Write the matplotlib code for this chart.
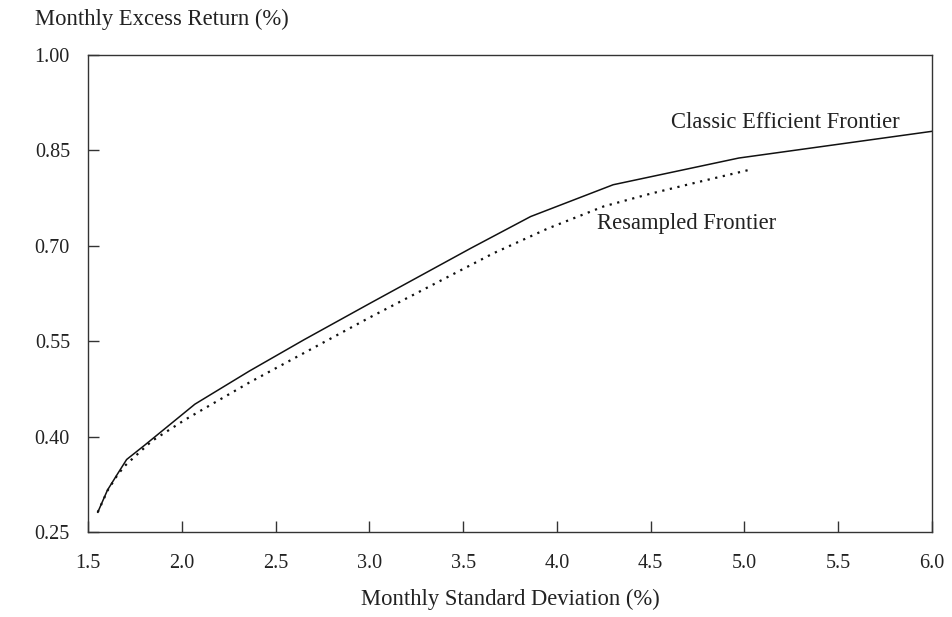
import matplotlib
matplotlib.use("Agg")
import matplotlib.pyplot as plt

# -----------------------------
# Data
# -----------------------------
classic_sd = [1.552, 1.604, 1.661, 1.706, 1.80, 2.07, 2.36, 2.65, 3.00, 3.54, 3.86, 4.30, 4.97, 6.00]
classic_ret = [0.281, 0.316, 0.343, 0.364, 0.386, 0.451, 0.503, 0.552, 0.609, 0.696, 0.746, 0.796, 0.838, 0.880]

resampled_sd = [1.552, 1.604, 1.660, 1.700, 1.740, 1.840, 2.020, 2.360, 3.000, 3.660, 3.950, 4.250, 4.500, 4.750, 5.020]
resampled_ret = [0.281, 0.315, 0.341, 0.355, 0.366, 0.393, 0.427, 0.485, 0.587, 0.688, 0.727, 0.762, 0.782, 0.800, 0.819]

x_ticks = [1.5, 2.0, 2.5, 3.0, 3.5, 4.0, 4.5, 5.0, 5.5, 6.0]
y_ticks = [0.25, 0.40, 0.55, 0.70, 0.85, 1.00]

# -----------------------------
# Plot
# -----------------------------
plt.rcParams["font.family"] = ["Liberation Serif", "DejaVu Serif"]
text_color = "#222222"
label_size = 16.3

fig = plt.figure(figsize=(9.53, 6.17), dpi=100)
ax = fig.add_axes([88 / 953, 1 - 532 / 617, (932 - 88) / 953, (532 - 55) / 617])

ax.plot(classic_sd, classic_ret, color="#111111", lw=1.1, solid_joinstyle="round")
ax.plot(resampled_sd, resampled_ret, color="#111111", lw=1.6,
        linestyle=(0, (1, 2.5)))

ax.text(4.61, 0.894, "Classic Efficient Frontier", fontsize=label_size,
        color=text_color, va="center", ha="left")
ax.text(4.215, 0.735, "Resampled Frontier", fontsize=label_size,
        color=text_color, va="center", ha="left")

ax.set_xlim(1.5, 6.0)
ax.set_ylim(0.25, 1.00)
ax.set_xticks(x_ticks)
ax.set_xticklabels([f"{v:.1f}" for v in x_ticks])
ax.set_yticks(y_ticks)
ax.set_yticklabels([f"{v:.2f}" for v in y_ticks])

ax.tick_params(direction="in", length=8, width=1.0, colors="#333333",
               labelcolor=text_color, labelsize=14.5)
ax.tick_params(axis="x", pad=16)
ax.tick_params(axis="y", pad=13)

for spine in ax.spines.values():
    spine.set_color("#333333")
    spine.set_linewidth(1.0)

ax.set_xlabel("Monthly Standard Deviation (%)", fontsize=label_size,
              color=text_color, labelpad=11)
fig.text(35 / 953, 1 - 19 / 617, "Monthly Excess Return (%)", fontsize=label_size,
         color=text_color, va="center", ha="left")

fig.savefig("out.png", dpi=100)
